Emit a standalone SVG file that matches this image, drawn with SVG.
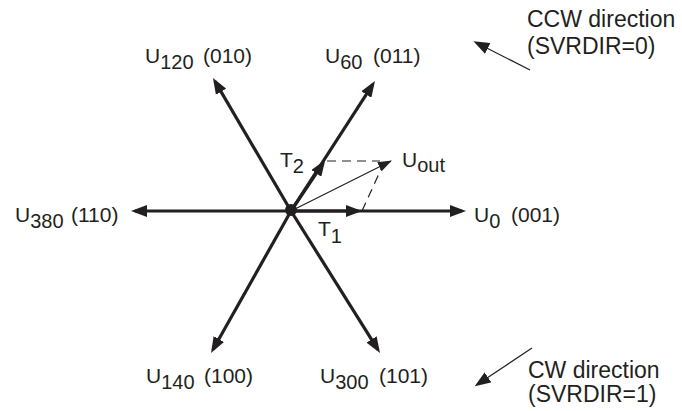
<svg xmlns="http://www.w3.org/2000/svg" width="682" height="411" viewBox="0 0 682 411">
<defs>
<style>
text{font-family:"Liberation Sans",Arial,sans-serif;font-size:21px;fill:#231f20}
.sub{font-size:20px}
.dir{font-size:23px}
.axis{stroke:#231f20;stroke-width:3.2;fill:none}
.thin{stroke:#231f20;stroke-width:1.2;fill:none}
.dash{stroke:#231f20;stroke-width:1.2;fill:none;stroke-dasharray:9 6}
</style>
<marker id="ah" viewBox="0 0 16 12" markerWidth="16" markerHeight="12" refX="12" refY="6" orient="auto" markerUnits="userSpaceOnUse">
<path d="M0,0 L16,6 L0,12 Z" fill="#231f20"/>
</marker>
<marker id="ahs" viewBox="0 0 14 10" markerWidth="14" markerHeight="10" refX="13" refY="5" orient="auto" markerUnits="userSpaceOnUse">
<path d="M0,0 L14,5 L0,10 Z" fill="#231f20"/>
</marker>
</defs>
<g id="connectors">
<line class="axis" x1="291" y1="211" x2="135" y2="211" marker-end="url(#ah)"/>
<line class="axis" x1="291" y1="211" x2="462" y2="211" marker-end="url(#ah)"/>
<line class="axis" x1="291" y1="211" x2="215" y2="81.4" marker-end="url(#ah)"/>
<line class="axis" x1="291" y1="211" x2="372.8" y2="84.4" marker-end="url(#ah)"/>
<line class="axis" x1="291" y1="211" x2="213" y2="349.5" marker-end="url(#ah)"/>
<line class="axis" x1="291" y1="211" x2="377.9" y2="349.6" marker-end="url(#ah)"/>
<line class="axis" x1="291" y1="211" x2="358" y2="211" marker-end="url(#ah)"/>
<line class="axis" x1="291" y1="211" x2="323" y2="163.4" marker-end="url(#ah)"/>
<line class="thin" x1="291" y1="211" x2="391" y2="161" marker-end="url(#ahs)"/>
<line class="dash" x1="327" y1="161" x2="380" y2="161"/>
<line class="dash" x1="362" y1="211" x2="382" y2="167"/>
<line class="thin" x1="530" y1="70" x2="477" y2="43" marker-end="url(#ah)"/>
<line class="thin" x1="532" y1="348" x2="478" y2="384" marker-end="url(#ah)"/>
<circle cx="291" cy="210" r="6" fill="#231f20"/>
</g>
<g id="u120"><text x="145" y="63">U<tspan class="sub" dy="6">120</tspan></text><text x="203" y="63">(010)</text></g>
<g id="u60"><text x="325" y="63">U<tspan class="sub" dy="6">60</tspan></text><text x="373" y="63">(011)</text></g>
<g id="u140"><text x="146" y="383">U<tspan class="sub" dy="6">140</tspan></text><text x="204" y="383">(100)</text></g>
<g id="u300"><text x="320" y="383">U<tspan class="sub" dy="6">300</tspan></text><text x="379" y="383">(101)</text></g>
<g id="u380"><text x="15" y="222">U<tspan class="sub" dy="6">380</tspan></text><text x="71" y="222">(110)</text></g>
<g id="u0"><text x="474" y="222">U<tspan class="sub" dy="6">0</tspan></text><text x="511" y="222">(001)</text></g>
<g id="t2"><text x="280" y="167">T<tspan class="sub" dy="6">2</tspan></text></g>
<g id="t1"><text x="318" y="236">T<tspan class="sub" dy="7">1</tspan></text></g>
<g id="uout"><text x="402" y="167">U<tspan class="sub" dy="5">out</tspan></text></g>
<g id="ccw"><text class="dir" x="527" y="27">CCW direction</text><text class="dir" x="527" y="54">(SVRDIR=0)</text></g>
<g id="cw"><text class="dir" x="528" y="378">CW direction</text><text class="dir" x="528" y="402">(SVRDIR=1)</text></g>
</svg>
